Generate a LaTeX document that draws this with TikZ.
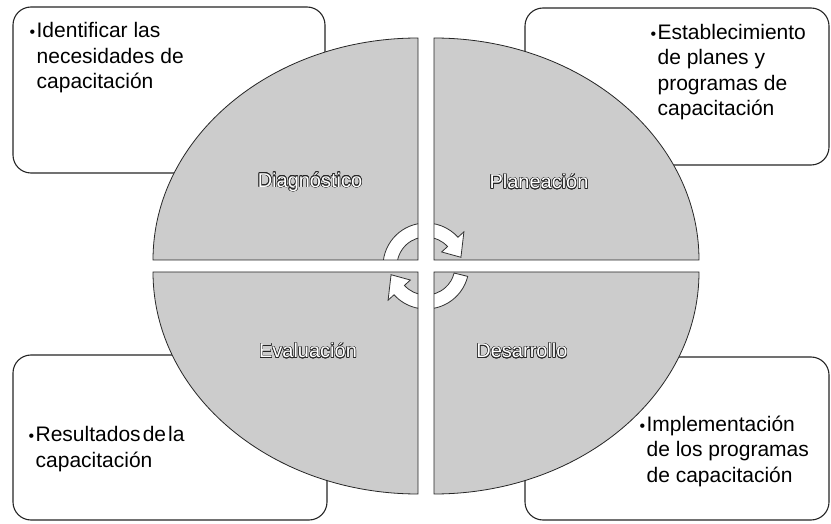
\documentclass[tikz,border=0pt]{standalone}
\usepackage{fontspec}
\setmainfont{Liberation Sans}
\usepackage{contour}
\contourlength{0.55pt}
\usetikzlibrary{positioning}

\tikzset{
	infobox/.style = {draw = black!85, line width = 1.1pt, rounded corners = 18pt, fill = white, inner sep = 0pt},
	infotext/.style = {align = left, inner sep = 0pt, font = \fontsize{21}{25.5}\selectfont},
	quarter/.style = {fill = black!20},
	quarteredge/.style = {draw = black!85, line width = 0.8pt},
	phase/.style = {font = \fontsize{20}{20}\selectfont},
	cyclearrow/.style = {fill = white, draw = black!80, line width = 0.8pt}
}

\newcommand{\bul}{\llap{{\fontsize{16}{16}\selectfont\textbullet}\hspace{1.5pt}}}
\newcommand{\hollow}[1]{{\color{white}\contour{black!85}{#1}}}
\newcommand{\tightwords}{\spaceskip = 0.1em\relax}

\begin{document}
\begin{tikzpicture}[x = 1pt, y = 1pt]

	\useasboundingbox (0, 0) rectangle (831, 523);

	% Corner boxes
	
	\node [infobox, minimum width = 312pt, minimum height = 166pt] (needbox) at (169, 433) {};
	\node [infobox, minimum width = 304pt, minimum height = 157pt] (planbox) at (677, 436.5) {};
	\node [infobox, minimum width = 314pt, minimum height = 165pt] (resbox) at (170, 85.5) {};
	\node [infobox, minimum width = 304pt, minimum height = 163pt] (implbox) at (677, 84.5) {};
	
	% Box texts
	
	\node [infotext, below right = 16pt and 24pt of needbox.north west] (needtext)
		{\bul Identificar las\\necesidades de\\capacitación};
	\node [infotext, below right = 16.5pt and 133pt of planbox.north west] (plantext)
		{\bul Establecimiento\\de planes y\\programas de\\capacitación};
	\node [infotext, below right = 72pt and 23pt of resbox.north west] (restext)
		{\tightwords\bul Resultados de la\\capacitación};
	\node [infotext, below right = 59pt and 122pt of implbox.north west] (impltext)
		{\tightwords\bul Implementación\\de los programas\\de capacitación};
	
	% Quarters of the ellipse with the cycle arrows
	
	\coordinate (hub) at (426, 257);
	
	\foreach \cx/\cy/\sa/\ea in {418/263/90/180, 434/263/0/90, 434/251/-90/0, 418/251/180/270} {
		\fill [quarter] (\cx, \cy) -- ++(\sa:265 and 222)
			arc [start angle = \sa, end angle = \ea, x radius = 265, y radius = 222] -- cycle;
		\begin{scope}
			\clip (\cx, \cy) -- ++(\sa:265 and 222)
				arc [start angle = \sa, end angle = \ea, x radius = 265, y radius = 222] -- cycle;
			\filldraw [cyclearrow] ([shift = {(185:43)}] hub)
				arc [start angle = 185, end angle = 42, radius = 43]
				-- ([shift = {(42:51)}] hub) -- ([shift = {(14:36)}] hub)
				-- ([shift = {(42:21)}] hub) -- ([shift = {(42:29)}] hub)
				arc [start angle = 42, end angle = 185, radius = 29] -- cycle;
			\filldraw [cyclearrow] ([shift = {(-14:43)}] hub)
				arc [start angle = -14, end angle = -138, radius = 43]
				-- ([shift = {(-138:51)}] hub) -- ([shift = {(-166:36)}] hub)
				-- ([shift = {(-138:21)}] hub) -- ([shift = {(-138:29)}] hub)
				arc [start angle = -138, end angle = -14, radius = 29] -- cycle;
		\end{scope}
		\draw [quarteredge] (\cx, \cy) -- ++(\sa:265 and 222)
			arc [start angle = \sa, end angle = \ea, x radius = 265, y radius = 222] -- cycle;
	}
	
	% Phase labels
	
	\node [phase] (diag) at (310, 341) {\hollow{Diagnóstico}};
	\node [phase] (plan) at (539, 341) {\hollow{Planeación}};
	\node [phase] (eval) at (308, 172) {\hollow{Evaluación}};
	\node [phase] (desa) at (522, 172) {\hollow{Desarrollo}};

\end{tikzpicture}
\end{document}
